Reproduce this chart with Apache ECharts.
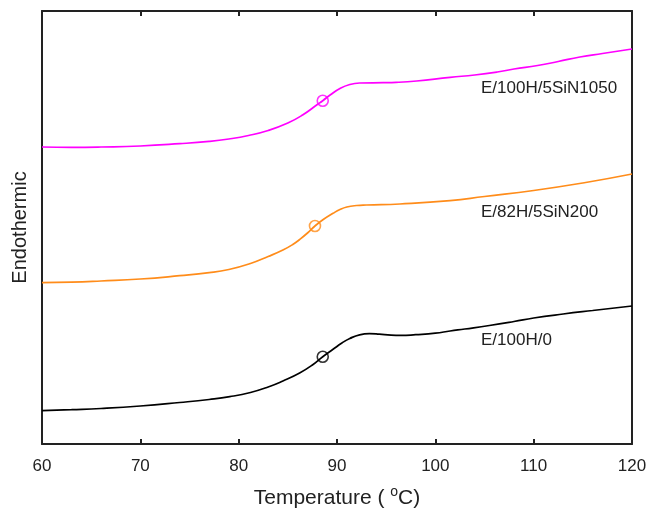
<!DOCTYPE html>
<html>
<head>
<meta charset="utf-8">
<script src="https://cdn.jsdelivr.net/npm/echarts@6/dist/echarts.min.js"></script>
<style>
html,body{margin:0;padding:0;background:#fff;}
#chart{width:649px;height:508px;}
</style>
</head>
<body>
<div id="chart"></div>
<script>
// Temperature (°C) and relative heat-flow values (arbitrary units, offset traces)
var tempMagenta = [60,63,66,70,74,77,79,81,83,85,86.5,88,88.55,89.3,90.3,91.3,92.3,94.7,96,98.1,101.5,104,106.3,108,110.4,112.5,114.7,117,120];
var valMagenta  = [297,296.7,297,298,300.3,302.6,305,308.5,313.5,321,329,339.5,343.3,349,355.5,359.5,361,361.3,361.6,363,366.7,369,372,375,378.5,382.5,387,390.5,395];

var tempOrange = [60,63,66,70,74,77,79,81.2,83,84.5,85.5,86.2,87,87.76,88.6,89.6,90.3,91,92,93,96.4,101.5,105,110,115,120];
var valOrange  = [161.3,161.8,163,165,168.3,171.3,174.5,180.5,187.5,194,199.5,204.5,211,218,224.5,230.7,234.5,237,238.5,239,240,243.3,247.5,253.5,261,270];

var tempBlack = [60,63,66,70,74,77,79.1,81.2,83,84.5,86.2,87.5,88.55,89.6,90.5,91.3,92.3,93.3,94.3,95.5,96.5,98,100,101.5,103,105.5,108,110,113,116,120];
var valBlack  = [33.3,34.3,35.5,38,41.5,44.5,47.3,51.5,57,63,71,79,87.3,94.7,101,105.5,109.2,110.3,109.8,108.8,108.6,109.3,110.8,113,115,118.5,122.5,126,130,133.5,138];

// Glass transition markers
var tgTemps  = [88.55, 87.76, 88.55];
var tgValues = [343.3, 218, 87.3];

var seriesNames  = ['E/100H/5SiN1050', 'E/82H/5SiN200', 'E/100H/0'];
var seriesColors = ['#ff00ff', '#ff8c1a', '#000000'];

var xTicks = [60,70,80,90,100,110,120];

function pairs(t, v){ return t.map(function(x,i){ return [x, v[i]]; }); }

var chart = echarts.init(document.getElementById('chart'), null, {renderer:'canvas'});

var lineData = [pairs(tempMagenta, valMagenta), pairs(tempOrange, valOrange), pairs(tempBlack, valBlack)];

var series = [];
for (var i = 0; i < 3; i++) {
  series.push({
    name: seriesNames[i], type: 'line', data: lineData[i], smooth: 0.5,
    showSymbol: false, lineStyle: {color: seriesColors[i], width: 1.7},
    itemStyle: {color: seriesColors[i]}, z: 3
  });
  series.push({
    name: seriesNames[i] + ' Tg', type: 'scatter', data: [[tgTemps[i], tgValues[i]]],
    symbol: 'circle', symbolSize: 11,
    itemStyle: {color: 'rgba(0,0,0,0)', borderColor: seriesColors[i], borderWidth: 1.6}, z: 4
  });
}

var labelFont = '17px "Liberation Sans", Arial, sans-serif';
var labelTops = [80, 204, 332];
var graphics = seriesNames.map(function(n, i){
  return {type:'text', left: 481, top: labelTops[i], style:{text:n, font: labelFont, fill:'#222'}};
});

chart.setOption({
  animation: false,
  backgroundColor: '#fff',
  grid: {left: 42, right: 17, top: 11, bottom: 64, containLabel: false, outerBoundsMode: 'none'},
  xAxis: [{
    type: 'value', min: 60, max: 120, interval: 10, position: 'bottom',
    name: 'Temperature ( {sup|o}C)', nameLocation: 'middle', nameGap: 41,
    nameTextStyle: {fontFamily: '"Liberation Sans", Arial', fontSize: 21, color: '#222',
      rich: {sup: {fontSize: 14, verticalAlign: 'top', padding: [0,0,12,0], color:'#222', fontFamily: '"Liberation Sans", Arial'}}},
    axisLine: {show: true, onZero: false, lineStyle: {color: '#222', width: 2}},
    axisTick: {show: true, inside: true, length: 5, lineStyle: {color: '#222', width: 2}},
    axisLabel: {fontFamily: '"Liberation Sans", Arial', fontSize: 17, color: '#222', margin: 14,
      formatter: function(v){ return xTicks.indexOf(v) >= 0 ? String(v) : ''; }},
    splitLine: {show: false}
  }, {
    type: 'value', min: 60, max: 120, interval: 10, position: 'top',
    axisLine: {show: true, onZero: false, lineStyle: {color: '#222', width: 2}},
    axisTick: {show: true, inside: true, length: 5, lineStyle: {color: '#222', width: 2}},
    axisLabel: {show: false}, splitLine: {show: false}
  }],
  yAxis: [{
    type: 'value', min: 0, max: 433, position: 'left',
    name: 'Endothermic', nameLocation: 'middle', nameGap: 12, nameRotate: 90,
    nameTextStyle: {fontFamily: '"Liberation Sans", Arial', fontSize: 20, color: '#222'},
    axisLine: {show: true, onZero: false, lineStyle: {color: '#222', width: 2}},
    axisTick: {show: false}, axisLabel: {show: false}, splitLine: {show: false}
  }, {
    type: 'value', min: 0, max: 433, position: 'right',
    axisLine: {show: true, onZero: false, lineStyle: {color: '#222', width: 2}},
    axisTick: {show: false}, axisLabel: {show: false}, splitLine: {show: false}
  }],
  series: series,
  graphic: graphics
});
</script>
</body>
</html>
